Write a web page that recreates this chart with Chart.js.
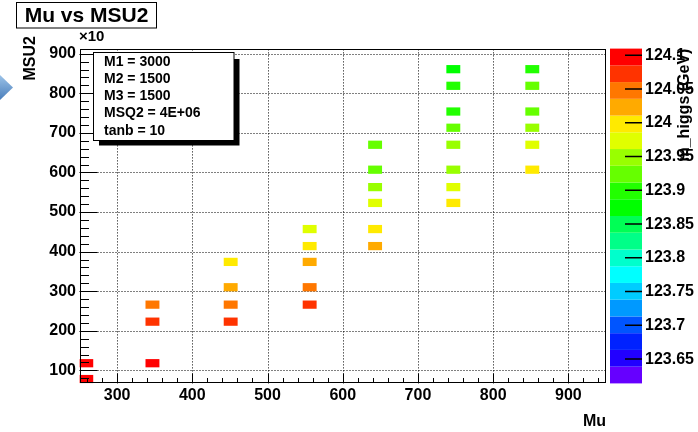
<!DOCTYPE html>
<html>
<head>
<meta charset="utf-8">
<script src="https://cdn.jsdelivr.net/npm/chart.js@4.4.1/dist/chart.umd.min.js"></script>
<style>
  html, body { margin: 0; padding: 0; background: #fff; }
  #wrap { width: 698px; height: 432px; }
</style>
</head>
<body>
<div id="wrap"><canvas id="myChart" width="698" height="432"></canvas></div>
<script>
// filled bins of the scan: Mu, MSU2 (x10) and m_higgs in GeV
var muValues     = [259, 259,
                    347, 347, 347,
                    451, 451, 451, 451,
                    556, 556, 556, 556, 556,
                    643, 643, 643, 643, 643, 643,
                    747, 747, 747, 747, 747, 747, 747, 747,
                    852, 852, 852, 852, 852, 852];
var msu2Values   = [78, 118,
                    118, 223, 266,
                    223, 266, 310, 374,
                    266, 310, 374, 414, 457,
                    414, 457, 523, 563, 607, 670,
                    523, 563, 607, 670, 713, 754, 819, 861,
                    607, 670, 713, 754, 819, 861];
var mhiggsValues = [124.10, 124.10,
                    124.10, 124.07, 124.05,
                    124.07, 124.05, 124.02, 124.00,
                    124.07, 124.05, 124.02, 124.00, 123.97,
                    124.02, 124.00, 123.97, 123.95, 123.92, 123.92,
                    124.00, 123.97, 123.95, 123.95, 123.92, 123.90, 123.90, 123.87,
                    124.00, 123.97, 123.95, 123.92, 123.92, 123.90];

var xTicks = [300, 400, 500, 600, 700, 800, 900];
var yTicks = [100, 200, 300, 400, 500, 600, 700, 800, 900];
var zTicks = [123.65, 123.7, 123.75, 123.8, 123.85, 123.9, 123.95, 124, 124.05, 124.1];

var paveLines = ['M1 = 3000', 'M2 = 1500', 'M3 = 1500', 'MSQ2 = 4E+06', 'tanb = 10'];

// axis ranges and bin size
var xMin = 250, xMax = 950;
var yMin = 67, yMax = 913;
var zMin = 123.614, zMax = 124.11;
var binW = 18.5, binH = 20.8;

// root palette, bottom to top
var palette = ['#6600ff', '#2200ff', '#0022ff', '#0055ff', '#0099ff', '#00ccff', '#00ffff',
               '#00ffcc', '#00ff88', '#00ff55', '#00ff00', '#22ff00', '#66ff00', '#99ff00',
               '#e0ff00', '#ffea00', '#ffaa00', '#ff7700', '#ff3300', '#ff0000'];

var FONT = '"Liberation Sans", Arial, Helvetica, sans-serif';

function colorFor(z) {
  var i = Math.floor((z - zMin) / (zMax - zMin) * palette.length);
  if (i < 0) i = 0;
  if (i > palette.length - 1) i = palette.length - 1;
  return palette[i];
}

var cells = muValues.map(function(mu, i) {
  return { x: mu, y: msu2Values[i], mh: mhiggsValues[i] };
});

function fixTicks(list) {
  return function(axis) {
    axis.ticks = list.map(function(v) { return { value: v }; });
  };
}

var rootLook = {
  id: 'rootLook',
  beforeDatasetsDraw: function(chart) {
    var ctx = chart.ctx, a = chart.chartArea;
    var xs = chart.scales.x, ys = chart.scales.y;
    ctx.save();

    // dotted grid
    ctx.strokeStyle = '#000';
    ctx.lineWidth = 1;
    ctx.setLineDash([1, 2]);
    ctx.beginPath();
    xTicks.forEach(function(v) {
      var p = Math.round(xs.getPixelForValue(v)) + 0.5;
      ctx.moveTo(p, a.bottom); ctx.lineTo(p, a.top);
    });
    yTicks.forEach(function(v) {
      var p = Math.round(ys.getPixelForValue(v)) + 0.5;
      ctx.moveTo(a.left, p); ctx.lineTo(a.right, p);
    });
    ctx.stroke();
    ctx.setLineDash([]);

    // cells
    ctx.beginPath();
    ctx.rect(a.left, a.top, a.right - a.left, a.bottom - a.top);
    ctx.clip();
    chart.data.datasets[0].data.forEach(function(c) {
      var x0 = xs.getPixelForValue(c.x - binW / 2);
      var x1 = xs.getPixelForValue(c.x + binW / 2);
      var y0 = ys.getPixelForValue(c.y + binH / 2);
      var y1 = ys.getPixelForValue(c.y - binH / 2);
      ctx.fillStyle = colorFor(c.mh);
      ctx.fillRect(x0, y0, x1 - x0, y1 - y0);
    });
    ctx.restore();
  },
  afterDraw: function(chart) {
    var ctx = chart.ctx, a = chart.chartArea;
    var xs = chart.scales.x, ys = chart.scales.y, zs = chart.scales.zAxis;
    var v, p, len;
    ctx.save();

    // frame
    ctx.strokeStyle = '#000';
    ctx.lineWidth = 1;
    var fl = Math.round(a.left) + 0.5, ft = Math.round(a.top) + 0.5;
    var fr = Math.round(a.right) - 0.5, fb = Math.round(a.bottom) - 0.5;
    ctx.strokeRect(fl, ft, fr - fl, fb - ft);

    // inward ticks
    ctx.beginPath();
    for (v = 80; v <= 900; v += 20) {
      p = Math.round(ys.getPixelForValue(v)) + 0.5;
      len = v % 100 === 0 ? 17 : 8.5;
      ctx.moveTo(fl, p); ctx.lineTo(fl + len, p);
    }
    for (v = 260; v <= 940; v += 20) {
      p = Math.round(xs.getPixelForValue(v)) + 0.5;
      len = v % 100 === 0 ? 9 : 4.5;
      ctx.moveTo(p, fb); ctx.lineTo(p, fb - len);
    }
    ctx.stroke();

    // colour bar
    var bx0 = a.right + 4, bx1 = a.right + 36;
    var step = (zMax - zMin) / palette.length;
    palette.forEach(function(col, i) {
      var yb = zs.getPixelForValue(zMin + i * step);
      var yt = zs.getPixelForValue(zMin + (i + 1) * step);
      ctx.fillStyle = col;
      ctx.fillRect(bx0, yt, bx1 - bx0, yb - yt);
    });
    ctx.beginPath();
    ctx.lineWidth = 1.5;
    zTicks.forEach(function(z) {
      var yy = zs.getPixelForValue(z);
      ctx.moveTo(bx1 - 17, yy); ctx.lineTo(bx1, yy);
    });
    ctx.stroke();
    ctx.lineWidth = 1;

    ctx.fillStyle = '#000';
    ctx.font = 'bold 16px ' + FONT;
    ctx.textBaseline = 'middle';

    // z title
    ctx.save();
    ctx.translate(685, a.top);
    ctx.rotate(-Math.PI / 2);
    ctx.textAlign = 'right';
    ctx.fillText('m_higgs (GeV)', 0, 0);
    ctx.restore();

    // y title
    ctx.save();
    ctx.translate(31, 36);
    ctx.rotate(-Math.PI / 2);
    ctx.textAlign = 'right';
    ctx.fillText('MSU2', 0, 0);
    ctx.restore();

    // x title
    ctx.textAlign = 'right';
    ctx.fillText('Mu', a.right, 422);

    // exponent
    ctx.font = 'bold 15px ' + FONT;
    ctx.textAlign = 'left';
    ctx.fillText('\u00d710', 79, 37);

    // title box
    ctx.fillStyle = '#fff';
    ctx.fillRect(16.5, 2.5, 140, 25.5);
    ctx.strokeRect(16.5, 2.5, 140, 25.5);
    ctx.fillStyle = '#000';
    ctx.font = 'bold 21px ' + FONT;
    ctx.textAlign = 'center';
    ctx.fillText('Mu vs MSU2', 86.5, 16);

    // parameter box with shadow
    ctx.fillStyle = '#000';
    ctx.fillRect(99, 59, 140.5, 86.5);
    ctx.fillStyle = '#fff';
    ctx.fillRect(93.5, 52.5, 140.5, 88);
    ctx.strokeRect(93.5, 52.5, 140.5, 88);
    ctx.fillStyle = '#000';
    ctx.font = 'bold 14px ' + FONT;
    ctx.textAlign = 'left';
    paveLines.forEach(function(t, i) {
      ctx.fillText(t, 104, 62 + i * 17.2);
    });

    // blue marker on the left edge
    var g = ctx.createLinearGradient(0, 75, 0, 100);
    g.addColorStop(0, '#9cc3e8');
    g.addColorStop(1, '#4a7ebb');
    ctx.fillStyle = g;
    ctx.beginPath();
    ctx.moveTo(0, 75); ctx.lineTo(13, 87.5); ctx.lineTo(0, 100);
    ctx.closePath();
    ctx.fill();

    ctx.restore();
  }
};

Chart.defaults.color = '#000';
Chart.defaults.font.family = FONT;
Chart.defaults.font.weight = 'bold';
Chart.defaults.font.size = 16;

var ctx = document.getElementById('myChart').getContext('2d');
var chart = new Chart(ctx, {
  type: 'scatter',
  data: {
    datasets: [{
      label: 'Mu vs MSU2',
      data: cells,
      pointRadius: 0,
      pointHoverRadius: 0
    }]
  },
  options: {
    responsive: false,
    animation: false,
    events: [],
    layout: { padding: { top: 44, left: 0, right: 0, bottom: 0 } },
    plugins: { legend: { display: false }, tooltip: { enabled: false } },
    scales: {
      x: {
        type: 'linear', position: 'bottom', min: xMin, max: xMax,
        afterBuildTicks: fixTicks(xTicks),
        afterFit: function(s) { s.height = 36.5; },
        grid: { display: false, drawTicks: false },
        border: { display: false },
        ticks: { padding: 2.5, maxRotation: 0, autoSkip: false }
      },
      y: {
        type: 'linear', position: 'left', min: yMin, max: yMax,
        afterBuildTicks: fixTicks(yTicks),
        afterFit: function(s) { s.width = 79.5; },
        grid: { display: false, drawTicks: false },
        border: { display: false },
        ticks: { padding: 3.5, autoSkip: false }
      },
      zAxis: {
        type: 'linear', axis: 'y', position: 'right', min: zMin, max: zMax,
        afterBuildTicks: fixTicks(zTicks),
        afterFit: function(s) { s.width = 92; },
        grid: { display: false, drawTicks: false },
        border: { display: false },
        ticks: {
          padding: 39, autoSkip: false,
          callback: function(v) { return String(+v.toFixed(2)); }
        }
      }
    }
  },
  plugins: [rootLook]
});
</script>
</body>
</html>
